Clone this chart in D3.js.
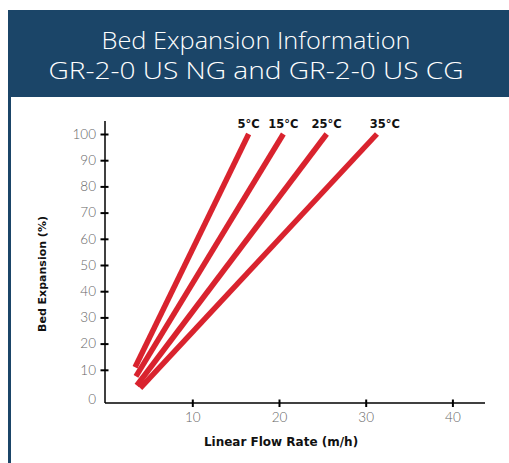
<!DOCTYPE html>
<html>
<head>
<meta charset="utf-8">
<script src="https://cdn.jsdelivr.net/npm/d3@7"></script>
<style>
  body { margin: 0; background: #fff; }
  svg { display: block; }
</style>
</head>
<body>
<div id="chart"></div>
<script>
// temperatures and their line end points [flow rate m/h, bed expansion %]
const temps = ["5°C", "15°C", "25°C", "35°C"];
const lineStart = [[3.4, 11], [3.5, 7.5], [3.6, 4], [4.0, 3]];
const lineEnd = [[16.5, 100], [20.5, 100], [25.5, 100], [31.3, 100]];
const xTicks = [10, 20, 30, 40];
const yTicks = [10, 20, 30, 40, 50, 60, 70, 80, 90, 100];
const titleLines = ["Bed Expansion Information", "GR-2-0 US NG and GR-2-0 US CG"];

const W = 509, H = 463;
const blue = "#1b4568";
const red = "#d9232e";

const svg = d3.select("#chart").append("svg")
    .attr("width", W)
    .attr("height", H);

// header box + left border
svg.append("rect")
    .attr("x", 8).attr("y", 10)
    .attr("width", W - 8).attr("height", 87)
    .attr("fill", blue);
svg.append("rect")
    .attr("x", 8).attr("y", 96)
    .attr("width", 3).attr("height", H - 96)
    .attr("fill", blue);

const titleWidths = [309, 415];
svg.append("g")
    .selectAll("text")
    .data(titleLines)
    .enter().append("text")
        .attr("x", 256)
        .attr("y", (d, i) => 49 + i * 29.5)
        .attr("text-anchor", "middle")
        .attr("fill", "#fff")
        .attr("textLength", (d, i) => titleWidths[i])
        .attr("lengthAdjust", "spacingAndGlyphs")
        .style("font", "300 23px 'Open Sans', sans-serif")
        .text(d => d);

const x = d3.scaleLinear().domain([0, 40]).range([105.6, 452.4]);
const y = d3.scaleLinear().domain([0, 100]).range([396, 134]);

// y axis
const yAxis = svg.append("g")
    .attr("transform", "translate(105,0)")
    .call(d3.axisLeft(y).tickValues(yTicks).tickSize(0).tickPadding(9));
yAxis.select(".domain").remove();
yAxis.append("line")
    .attr("x1", 0).attr("x2", 0)
    .attr("y1", 121).attr("y2", 403)
    .attr("stroke", "#000").attr("stroke-width", 1.5);
yAxis.selectAll(".tick").append("line")
    .attr("x1", -4.5).attr("x2", 3.5)
    .attr("stroke", "#000").attr("stroke-width", 2);
yAxis.append("text")
    .attr("x", -9).attr("y", y(0) + 4)
    .attr("dy", "0.32em")
    .attr("text-anchor", "end")
    .text("0");
yAxis.selectAll("text")
    .attr("fill", "#666")
    .style("font", "300 13.5px Lato, sans-serif");

// x axis
const xAxis = svg.append("g")
    .attr("transform", "translate(0,403)")
    .call(d3.axisBottom(x).tickValues(xTicks).tickSize(0).tickPadding(9));
xAxis.select(".domain").remove();
xAxis.append("line")
    .attr("x1", 105).attr("x2", 485)
    .attr("stroke", "#000").attr("stroke-width", 1.5);
xAxis.selectAll(".tick").append("line")
    .attr("y1", -3.5).attr("y2", 4)
    .attr("stroke", "#000").attr("stroke-width", 2);
xAxis.selectAll("text")
    .attr("fill", "#666")
    .style("font", "300 13.5px Lato, sans-serif");

// axis titles
svg.append("text")
    .attr("x", 281).attr("y", 446)
    .attr("text-anchor", "middle")
    .style("font", "bold 12px 'DejaVu Sans', sans-serif")
    .attr("fill", "#111")
    .text("Linear Flow Rate (m/h)");
svg.append("text")
    .attr("transform", "translate(46,274) rotate(-90)")
    .attr("text-anchor", "middle")
    .style("font", "bold 11px 'DejaVu Sans', sans-serif")
    .attr("fill", "#111")
    .text("Bed Expansion (%)");

// lines
const series = temps.map((t, i) => ({ name: t, pts: [lineStart[i], lineEnd[i]] }));
const line = d3.line().x(d => x(d[0])).y(d => y(d[1]));

svg.append("g")
    .attr("fill", "none")
    .attr("stroke", red)
    .attr("stroke-width", 5.5)
    .selectAll("path")
    .data(series)
    .enter().append("path")
        .attr("d", d => line(d.pts));

svg.append("g")
    .style("font", "bold 11.5px 'DejaVu Sans', sans-serif")
    .selectAll("text")
    .data(series)
    .enter().append("text")
        .attr("x", (d, i) => x(d.pts[1][0]) + (i === 3 ? 8 : 0))
        .attr("y", 128)
        .attr("text-anchor", "middle")
        .attr("fill", "#111")
        .text(d => d.name);
</script>
</body>
</html>
